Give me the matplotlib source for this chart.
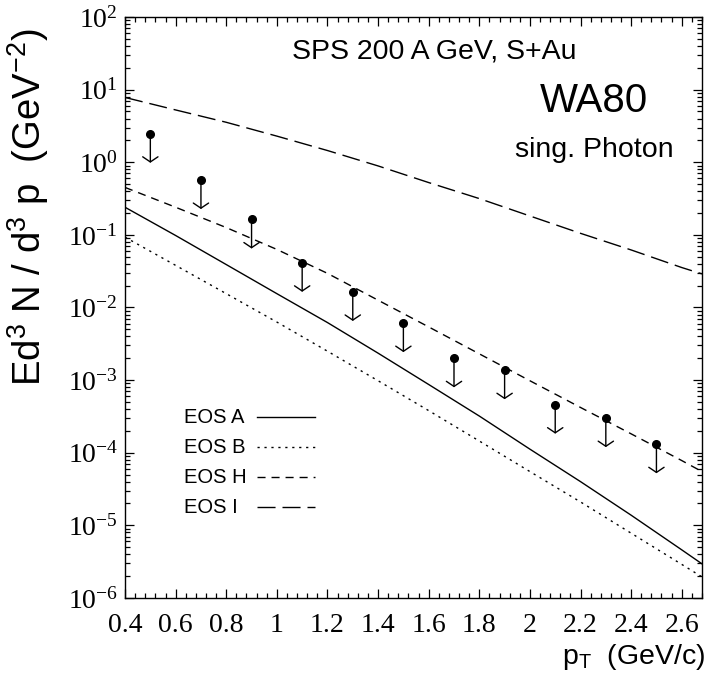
import matplotlib

matplotlib.use("Agg")
import matplotlib.pyplot as plt
from matplotlib.ticker import MultipleLocator, FormatStrFormatter, LogLocator, NullFormatter

plt.rcParams["font.family"] = ["Liberation Sans", "DejaVu Sans"]
plt.rcParams["lines.scale_dashes"] = False

# model curves (EOS)
PT = [0.4, 0.6, 0.8, 1.0, 1.2, 1.4, 1.6, 1.8, 2.0, 2.2, 2.4, 2.6, 2.68]
EOS_A = [0.24, 0.098, 0.039, 0.0155, 6.2e-3, 2.35e-3, 8.7e-4, 3.2e-4,
         1.12e-4, 4.0e-5, 1.38e-5, 4.6e-6, 2.95e-6]
EOS_B = [0.093, 0.038, 0.0155, 6.3e-3, 2.5e-3, 9.8e-4, 3.8e-4, 1.45e-4,
         5.5e-5, 2.1e-5, 7.8e-6, 2.9e-6, 1.95e-6]
EOS_H = [0.45, 0.24, 0.126, 0.063, 0.0295, 0.0126, 5.4e-3, 2.3e-3,
         9.8e-4, 4.2e-4, 1.82e-4, 7.8e-5, 5.5e-5]
EOS_I = [7.8, 5.25, 3.55, 2.29, 1.45, 0.89, 0.525, 0.316,
         0.182, 0.105, 0.062, 0.0355, 0.029]

# WA80 single photon upper limits
PT_DATA = [0.5, 0.7, 0.9, 1.1, 1.3, 1.5, 1.7, 1.9, 2.1, 2.3, 2.5]
UPPER = [2.47, 0.57, 0.163, 0.0413, 0.0164, 6.1e-3, 2.0e-3, 1.37e-3,
         4.6e-4, 3.0e-4, 1.31e-4]

ARROW_DECADES = 0.4

fig = plt.figure(figsize=(7.08, 6.83), dpi=100)
ax = fig.add_axes([0.1766, 0.1245, 0.8149, 0.8506])

lw = 1.0
ax.plot(PT, EOS_A, color="black", lw=lw, ls="-")
ax.plot(PT, EOS_B, color="black", lw=lw, ls=(0, (1.6, 3.4)))
ax.plot(PT, EOS_H, color="black", lw=lw, ls=(0, (5.8, 4.3)))
ax.plot(PT, EOS_I, color="black", lw=lw, ls=(0, (13, 5)))

ax.plot(PT_DATA, UPPER, "o", color="black", ms=5.5, zorder=4)
for x, y in zip(PT_DATA, UPPER):
    ax.annotate("", xy=(x, y * 10 ** -ARROW_DECADES), xytext=(x, y),
                arrowprops=dict(arrowstyle="->, head_length=0.37, head_width=0.55",
                                color="black", lw=1.0, shrinkA=0, shrinkB=0,
                                mutation_scale=10))

ax.set_yscale("log")
ax.set_xlim(0.4, 2.68)
ax.set_ylim(1e-6, 1e2)

ax.xaxis.set_major_locator(MultipleLocator(0.2))
ax.xaxis.set_minor_locator(MultipleLocator(0.04))
ax.xaxis.set_major_formatter(FormatStrFormatter("%g"))
ax.yaxis.set_major_locator(LogLocator(base=10, numticks=20))
ax.yaxis.set_minor_locator(LogLocator(base=10, subs=range(2, 10), numticks=20))
ax.yaxis.set_minor_formatter(NullFormatter())

ax.tick_params(which="both", direction="in", top=True, right=True, width=0.9,
               labelsize=20, labelfontfamily="Liberation Serif")
ax.tick_params(which="major", length=6.5)
ax.tick_params(which="minor", length=3.5)
ax.tick_params(axis="x", pad=11)
ax.tick_params(axis="y", pad=5)
for s in ax.spines.values():
    s.set_linewidth(1.0)

ax.set_ylabel(r"Ed$\mathregular{^3}$ N / d$\mathregular{^3}$ p  (GeV$\mathregular{^{-2}}$)",
              fontsize=27.5)
ax.yaxis.set_label_coords(-0.128, 0.672)
ax.set_xlabel(r"p$\mathregular{_T}$  (GeV/c)", fontsize=20.5, loc="right")
ax.xaxis.set_label_coords(1.006, -0.076)

ax.text(0.783, 0.929, "SPS 200 A GeV, S+Au", transform=ax.transAxes,
        ha="right", va="baseline", fontsize=20.5)
ax.text(0.906, 0.8365, "WA80", transform=ax.transAxes,
        ha="right", va="baseline", fontsize=29)
ax.text(0.950, 0.759, "sing. Photon", transform=ax.transAxes,
        ha="right", va="baseline", fontsize=20.5)

# legend: labels on the left, line samples on the right
leg_labels = ["EOS A", "EOS B", "EOS H", "EOS I"]
leg_styles = ["-", (0, (1.6, 3.4)), (0, (5.8, 4.3)), (0, (13, 5))]
for i, (lab, st) in enumerate(zip(leg_labels, leg_styles)):
    yy = 0.311 - i * 0.0515
    ax.text(0.102, yy, lab, transform=ax.transAxes, ha="left", va="center",
            fontsize=14.5)
    ax.plot([0.228, 0.329], [yy, yy], transform=ax.transAxes, color="black",
            lw=lw, ls=st)

fig.savefig("out.png", dpi=100)
